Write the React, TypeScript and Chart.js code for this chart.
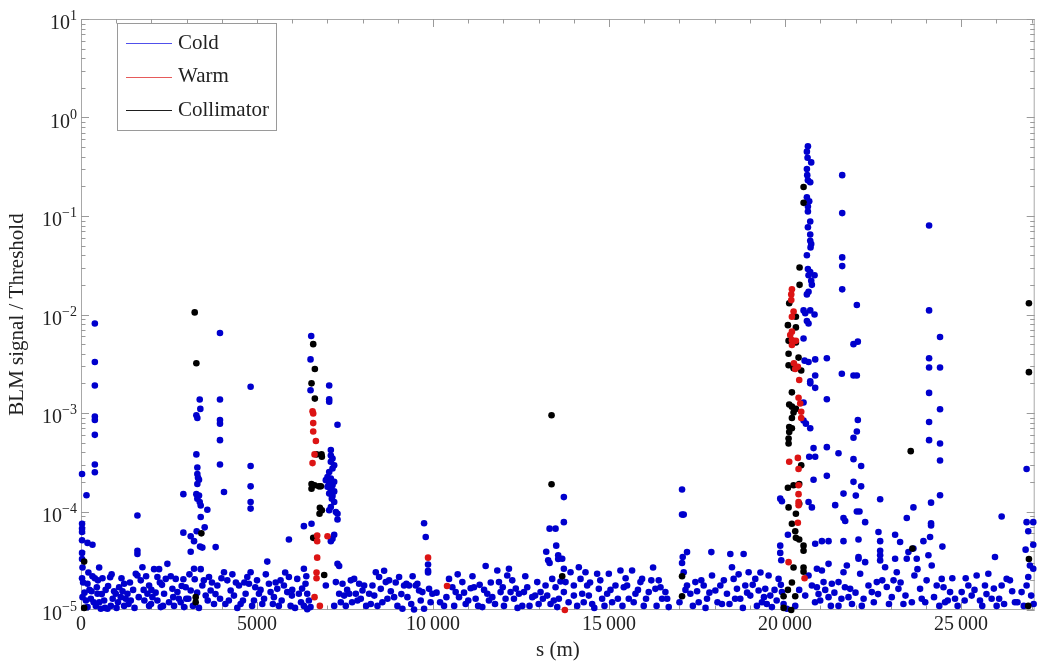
import React, { useEffect, useRef } from "react";
import { Chart, registerables } from "chart.js";

Chart.register(...registerables);

// ---------- data (s in metres, value = BLM signal / threshold) ----------
const seriesNames = ["Cold", "Warm", "Collimator"];

const xTickValues = [0, 5000, 10000, 15000, 20000, 25000];
const xTickLabels = ["0", "5000", "10\u2009000", "15\u2009000", "20\u2009000", "25\u2009000"];
const yDecades = [-5, -4, -3, -2, -1, 0, 1];
const yTickExponents = ["\u22125", "\u22124", "\u22123", "\u22122", "\u22121", "0", "1"];

const coldPeaks: [number, number][] = [
  [30, 2.4e-4], [156, 1.46e-4], [393, 8.1e-3], [393, 3.3e-3], [393, 1.9e-3], [393, 9.2e-4], [393, 8.5e-4],
  [393, 6.0e-4], [393, 3.0e-4], [393, 2.5e-4], [30, 7.5e-5], [30, 6.7e-5], [30, 6.2e-5], [30, 5.1e-5],
  [185, 4.8e-5], [326, 4.6e-5], [30, 3.8e-5], [30, 3.3e-5],
  [1603, 9.1e-5], [1603, 4.0e-5], [1603, 3.7e-5], [2908, 1.5e-4], [2908, 6.1e-5],
  [3372, 1.37e-3], [3390, 1.1e-3], [3277, 9.5e-4], [3305, 8.9e-4], [3277, 3.8e-4], [3305, 2.8e-4],
  [3305, 2.4e-4], [3324, 2.2e-4], [3352, 2.1e-4], [3305, 1.9e-4], [3277, 1.5e-4], [3352, 1.45e-4],
  [3305, 1.35e-4], [3372, 1.25e-4], [3400, 1.15e-4], [3589, 1.04e-4], [3400, 8.8e-5], [3513, 6.9e-5],
  [3286, 6.3e-5], [3116, 5.6e-5], [3211, 5.0e-5], [3381, 4.4e-5], [3447, 4.3e-5], [3825, 4.35e-5], [3116, 3.9e-5],
  [3948, 6.5e-3], [3948, 1.37e-3], [3948, 8.5e-4], [3948, 7.8e-4], [3948, 5.3e-4], [3948, 3.0e-4], [4062, 1.58e-4],
  [4818, 1.85e-3], [4818, 2.9e-4], [4818, 1.8e-4], [4818, 1.25e-4], [4818, 1.07e-4],
  [5906, 5.2e-5], [5291, 3.1e-5], [6331, 7.1e-5],
  [6539, 6.05e-3], [6520, 3.5e-3], [6520, 1.7e-3], [6548, 7.5e-5],
  [7050, 1.9e-3], [7050, 1.38e-3], [7050, 1.3e-3], [7286, 7.6e-4], [7097, 4.2e-4], [7097, 3.7e-4],
  [7144, 3.45e-4], [7097, 3.2e-4], [7192, 2.95e-4], [7144, 2.73e-4], [7050, 2.52e-4], [7002, 2.24e-4],
  [7097, 2.16e-4], [6955, 2.08e-4], [7192, 2.0e-4], [7050, 1.92e-4], [7144, 1.85e-4], [7002, 1.78e-4],
  [7097, 1.68e-4], [7192, 1.6e-4], [7050, 1.52e-4], [7144, 1.44e-4], [7125, 1.35e-4], [7192, 1.25e-4],
  [7097, 1.11e-4], [7050, 1.03e-4], [7239, 9.9e-5], [7286, 9.5e-5], [7286, 8.3e-5], [7192, 5.8e-5],
  [7144, 5.3e-5], [7097, 5.0e-5], [7286, 2.94e-5], [7333, 2.8e-5],
  [9745, 7.6e-5], [9792, 5.5e-5], [9858, 2.9e-5], [9858, 2.5e-5], [9858, 2.4e-5],
  [13716, 1.4e-4], [13716, 7.8e-5], [13310, 6.7e-5], [13480, 6.7e-5], [13499, 4.5e-5], [13215, 3.9e-5],
  [13270, 3.2e-5], [13310, 3.0e-5], [13555, 3.6e-5], [13555, 3.3e-5],
  [17073, 1.67e-4], [17073, 9.3e-5], [17120, 9.3e-5], [17214, 3.87e-5], [17092, 3.45e-5], [17073, 3.0e-5],
  [17905, 3.87e-5], [18444, 3.7e-5], [18822, 3.7e-5], [16250, 2.7e-5],
  [19862, 1.35e-4], [19910, 1.27e-4], [20080, 5.8e-5], [19862, 4.5e-5], [19862, 3.8e-5], [19891, 3.2e-5],
  [20648, 0.51], [20619, 0.45], [20638, 0.39], [20742, 0.35], [20619, 0.3], [20629, 0.26], [20648, 0.23],
  [20714, 0.22], [20619, 0.155], [20685, 0.141], [20648, 0.125], [20648, 0.111], [20714, 0.088],
  [20648, 0.077], [20714, 0.065], [20714, 0.056], [20742, 0.052], [20723, 0.048], [20619, 0.04],
  [20648, 0.029], [20714, 0.027], [20837, 0.025], [20666, 0.025], [20742, 0.022], [20761, 0.02],
  [20619, 0.016], [20666, 0.017],
  [20524, 1.1e-2], [20572, 1.03e-2], [20714, 1.1e-2], [20836, 1.0e-2], [20619, 8.6e-3], [20666, 8.1e-3],
  [20524, 5.7e-3], [21186, 3.6e-3], [21612, 2.5e-3], [20855, 3.5e-3], [20666, 3.3e-3], [20553, 3.4e-3],
  [21186, 1.38e-3], [20855, 2.4e-3], [20714, 2.1e-3], [20714, 2.0e-3], [20855, 1.8e-3], [20524, 1.28e-3],
  [20524, 8.4e-4], [20591, 7.8e-4], [20714, 7.0e-4], [21186, 4.5e-4], [20808, 4.4e-4], [20685, 3.6e-4],
  [20855, 3.6e-4], [21517, 3.9e-4], [21186, 2.3e-4], [20808, 2.1e-4], [20666, 1.25e-4], [20761, 1.1e-4],
  [20855, 4.7e-5], [21045, 5.0e-5], [21234, 5.0e-5], [21659, 5.0e-5],
  [21659, 1.52e-4], [21423, 1.16e-4], [21659, 8.6e-5], [21707, 8.0e-5],
  [21622, 0.26], [21622, 0.107], [21622, 0.038], [21622, 0.031], [21622, 0.018],
  [22038, 1.25e-2], [21943, 5.0e-3], [22066, 5.3e-3], [21943, 2.4e-3], [22038, 2.4e-3], [22066, 8.5e-4],
  [22038, 6.5e-4], [21943, 5.6e-4], [21943, 3.4e-4], [22160, 2.9e-4], [21943, 2.0e-4], [22160, 1.8e-4],
  [22009, 1.45e-4], [22038, 1.0e-4], [22113, 1.0e-4], [22274, 7.8e-5],
  [24090, 0.08], [22700, 1.33e-4], [23645, 1.1e-4], [23456, 8.6e-5],
  [24090, 1.1e-2], [24401, 5.9e-3], [24090, 3.6e-3], [24090, 2.9e-3], [24401, 2.9e-3], [24090, 1.6e-3],
  [24401, 1.09e-3], [24090, 8.1e-4], [24090, 5.3e-4], [24401, 4.9e-4], [24401, 3.3e-4], [24401, 1.46e-4],
  [24146, 1.23e-4], [24146, 7.6e-5], [24146, 7.2e-5], [24468, 4.4e-5],
  [26151, 8.9e-5], [26860, 2.7e-4], [26860, 7.8e-5], [27049, 7.8e-5], [26907, 6.3e-5], [27049, 4.6e-5],
  [26832, 4.1e-5], [22085, 5.2e-5], [22085, 3.45e-5], [22652, 6.2e-5], [22700, 4.0e-5], [23125, 5.8e-5],
  [23267, 4.9e-5], [23929, 5.0e-5], [24118, 5.5e-5], [25962, 3.45e-5], [22700, 5.0e-5],
];

const coldFloor: [number, number][] = [
  [43, 2.7e-5], [516, 2.7e-5], [30, 2.1e-5], [326, 2.2e-5], [393, 2.1e-5], [610, 2.1e-5], [185, 1.85e-5],
  [450, 1.7e-5], [828, 2.15e-5], [43, 1.35e-5], [280, 1.3e-5], [468, 1.46e-5], [657, 1.25e-5], [847, 1.1e-5],
  [185, 1.07e-5], [421, 1.1e-5], [563, 1.03e-5], [752, 1.03e-5], [1083, 1.7e-5], [1225, 1.85e-5], [988, 1.46e-5],
  [1130, 1.35e-5], [1320, 1.46e-5], [1414, 1.25e-5], [1225, 1.1e-5], [1603, 2.24e-5], [1556, 2.33e-5],
  [1745, 2.72e-5], [1698, 2.0e-5], [1934, 1.77e-5], [1887, 1.46e-5], [2029, 1.35e-5], [1934, 1.1e-5],
  [2170, 1.25e-5], [2265, 1.07e-5], [2076, 2.6e-5], [2218, 2.6e-5], [2170, 2.16e-5], [2454, 2.94e-5],
  [2407, 2.07e-5], [2360, 1.46e-5], [2596, 1.64e-5], [2738, 1.52e-5], [2691, 2.07e-5], [2908, 2.05e-5],
  [2832, 1.2e-5], [2643, 1.1e-5], [2927, 1.07e-5], [2974, 1.7e-5], [3116, 1.58e-5], [3211, 2.62e-5],
  [3230, 2.05e-5], [3400, 2.6e-5], [3447, 1.77e-5], [3542, 1.4e-5], [3636, 2.16e-5], [3683, 1.58e-5],
  [3778, 1.15e-5], [3873, 1.77e-5], [4062, 2.42e-5], [4156, 2.0e-5], [4251, 1.58e-5], [4345, 1.4e-5],
  [4487, 1.77e-5], [4534, 1.15e-5], [4676, 1.46e-5], [4724, 2.16e-5], [4818, 2.42e-5], [4771, 1.85e-5],
  [4913, 1.25e-5], [5055, 1.46e-5], [5149, 1.15e-5], [5338, 1.85e-5], [5385, 1.52e-5], [5480, 1.35e-5],
  [5575, 1.64e-5], [5669, 2.0e-5], [5764, 1.77e-5], [5858, 1.52e-5], [5906, 2.16e-5], [5953, 1.1e-5],
  [6142, 2.07e-5], [6189, 1.46e-5], [6331, 2.62e-5], [6378, 1.85e-5], [6426, 1.46e-5], [6473, 1.25e-5],
  [6331, 1.1e-5], [6520, 1.07e-5], [6426, 1.02e-5],
  [100, 1.5e-5], [240, 1.6e-5], [520, 1.2e-5], [700, 1.6e-5], [900, 1.3e-5], [1050, 1.2e-5], [1180, 1.55e-5],
  [1350, 1.15e-5], [1480, 1.6e-5], [1800, 1.25e-5], [2000, 1.6e-5], [2300, 1.8e-5], [2500, 1.2e-5],
  [2780, 1.3e-5], [3050, 1.3e-5], [3350, 1.05e-5], [3600, 1.25e-5], [3950, 1.3e-5], [4100, 1.15e-5],
  [4400, 1.9e-5], [4600, 1.25e-5], [4950, 1.7e-5], [5200, 1.3e-5], [5450, 1.15e-5], [5700, 1.25e-5],
  [6000, 1.6e-5], [6250, 1.2e-5],
  [60, 1.9e-5], [140, 1.25e-5], [210, 2.4e-5], [300, 1.55e-5], [360, 1.2e-5], [480, 2.0e-5], [590, 1.45e-5],
  [680, 1.05e-5], [770, 1.75e-5], [870, 2.3e-5], [940, 1.55e-5], [1010, 1.05e-5], [1150, 2.1e-5], [1270, 1.3e-5],
  [1390, 1.9e-5], [1520, 1.05e-5], [1640, 1.35e-5], [1780, 1.6e-5], [1850, 2.2e-5], [1990, 1.15e-5],
  [2120, 1.5e-5], [2240, 1.9e-5], [2330, 1.1e-5], [2550, 2.2e-5], [2620, 1.35e-5], [2860, 1.75e-5],
  [2990, 1.3e-5], [3080, 2.3e-5], [3180, 1.1e-5], [3300, 1.5e-5], [3490, 2.0e-5], [3720, 1.9e-5],
  [3820, 1.45e-5], [3990, 2.1e-5], [4200, 1.25e-5], [4300, 2.3e-5], [4440, 1.05e-5], [4640, 1.9e-5],
  [4860, 1.1e-5], [5000, 2.0e-5], [5100, 1.6e-5], [5250, 2.3e-5], [5530, 1.9e-5], [5620, 1.1e-5],
  [5800, 2.4e-5], [5990, 1.4e-5], [6080, 1.05e-5], [6280, 1.65e-5], [6400, 2.2e-5],
  [6955, 1.77e-5], [7239, 1.92e-5], [7428, 1.85e-5], [7664, 2.0e-5], [7759, 2.07e-5], [7333, 1.46e-5],
  [7192, 1.1e-5], [7475, 1.4e-5], [7620, 1.46e-5], [7522, 1.1e-5], [7806, 1.46e-5], [7853, 1.25e-5],
  [7948, 1.3e-5], [8043, 1.77e-5], [7995, 1.58e-5], [8184, 1.46e-5], [8279, 1.77e-5], [8232, 1.15e-5],
  [8374, 2.42e-5], [8468, 2.16e-5], [8515, 1.64e-5], [8657, 1.92e-5], [8752, 2.0e-5], [8704, 1.3e-5],
  [8421, 1.1e-5], [8894, 1.35e-5], [8988, 1.1e-5], [9035, 2.16e-5], [9177, 1.77e-5], [9243, 1.85e-5],
  [9319, 1.77e-5], [9272, 1.35e-5], [9130, 1.03e-5], [9508, 1.77e-5], [9603, 1.58e-5], [9555, 1.85e-5],
  [9697, 1.52e-5], [9886, 1.64e-5], [9981, 1.46e-5], [9745, 1.03e-5], [9460, 1.01e-5],
  [7380, 1.2e-5], [7560, 1.6e-5], [7700, 1.2e-5], [7900, 1.85e-5], [8100, 1.1e-5], [8330, 1.4e-5],
  [8560, 1.2e-5], [8610, 2.5e-5], [8800, 1.55e-5], [8940, 1.9e-5], [9100, 1.45e-5], [9380, 1.15e-5],
  [9420, 2.2e-5], [9650, 1.25e-5], [9930, 1.2e-5],
  [10312, 1.1e-5], [10454, 2.07e-5], [10549, 1.7e-5], [10643, 1.52e-5], [10832, 1.92e-5], [10738, 1.35e-5],
  [10927, 1.15e-5], [11069, 1.66e-5], [11163, 1.7e-5], [11324, 1.8e-5], [11210, 1.3e-5], [11494, 2.8e-5],
  [11541, 1.46e-5], [11588, 1.25e-5], [11399, 1.07e-5], [11683, 1.35e-5], [11825, 2.52e-5], [11872, 1.92e-5],
  [11919, 1.52e-5], [12014, 1.1e-5], [12108, 2.24e-5], [12156, 2.62e-5], [12250, 2.0e-5], [12298, 1.3e-5],
  [12203, 1.52e-5], [12440, 1.46e-5], [12534, 1.1e-5], [12582, 1.52e-5], [12676, 1.7e-5], [12818, 1.35e-5],
  [12960, 1.92e-5], [13054, 1.52e-5], [13196, 1.77e-5], [13243, 1.4e-5], [13338, 1.15e-5], [13385, 2.07e-5],
  [13480, 1.7e-5], [13574, 1.3e-5], [13527, 1.07e-5], [13716, 1.52e-5],
  [10100, 1.5e-5], [10200, 1.2e-5], [10380, 1.35e-5], [10600, 1.1e-5], [10700, 2.3e-5], [10880, 1.5e-5],
  [11000, 1.25e-5], [11120, 2.2e-5], [11280, 1.1e-5], [11450, 1.6e-5], [11640, 1.9e-5], [11760, 1.15e-5],
  [11980, 1.7e-5], [12060, 1.3e-5], [12350, 1.65e-5], [12400, 1.05e-5], [12620, 2.2e-5], [12740, 1.1e-5],
  [12900, 1.4e-5], [13000, 1.15e-5], [13120, 1.3e-5], [13430, 1.25e-5], [13620, 1.95e-5],
  [13669, 3.31e-5], [13716, 2.62e-5], [13763, 1.92e-5], [13905, 2.42e-5], [13999, 1.77e-5], [14141, 2.72e-5],
  [14189, 2.07e-5], [14236, 1.46e-5], [14094, 1.1e-5], [14330, 2.42e-5], [14378, 1.77e-5], [14425, 1.4e-5],
  [14520, 1.15e-5], [14661, 2.33e-5], [14709, 1.64e-5], [14803, 1.3e-5], [14945, 1.46e-5], [14993, 2.33e-5],
  [15087, 1.2e-5], [15182, 1.77e-5], [15323, 2.52e-5], [15418, 1.7e-5], [15512, 1.77e-5], [15560, 1.3e-5],
  [15654, 2.52e-5], [15749, 1.46e-5], [15891, 1.92e-5], [15938, 2.07e-5], [15985, 1.1e-5], [16127, 1.52e-5],
  [16316, 1.64e-5], [16411, 2.0e-5], [16505, 1.3e-5], [16600, 1.52e-5], [16694, 1.07e-5],
  [13850, 1.2e-5], [14000, 1.4e-5], [14280, 1.2e-5], [14460, 1.9e-5], [14580, 1.05e-5], [14750, 2.0e-5],
  [14870, 1.1e-5], [15040, 1.6e-5], [15250, 1.3e-5], [15380, 1.1e-5], [15470, 2.1e-5], [15700, 1.2e-5],
  [15820, 1.6e-5], [16050, 1.3e-5], [16200, 2.0e-5], [16350, 1.1e-5], [16460, 1.7e-5], [16650, 1.3e-5],
  [17120, 2.42e-5], [17214, 1.77e-5], [17309, 1.46e-5], [17451, 1.92e-5], [17546, 1.2e-5], [17688, 1.77e-5],
  [17782, 1.3e-5], [17924, 2.24e-5], [18018, 1.58e-5], [18160, 1.77e-5], [18207, 1.15e-5], [18349, 1.46e-5],
  [18491, 2.72e-5], [18538, 2.07e-5], [18633, 1.64e-5], [18727, 1.3e-5], [18869, 1.77e-5], [18964, 2.42e-5],
  [19011, 1.4e-5], [19153, 2.07e-5], [19248, 1.58e-5], [19342, 1.2e-5], [19437, 1.64e-5], [19531, 2.24e-5],
  [19579, 1.4e-5], [19626, 1.07e-5], [19815, 2.07e-5], [19910, 1.52e-5], [19957, 1.15e-5], [20051, 1.03e-5],
  [17000, 1.2e-5], [17170, 1.6e-5], [17380, 1.1e-5], [17500, 1.55e-5], [17620, 2.0e-5], [17740, 1.05e-5],
  [17850, 1.5e-5], [18080, 1.2e-5], [18260, 2.0e-5], [18420, 1.15e-5], [18580, 1.3e-5], [18680, 2.3e-5],
  [18800, 1.05e-5], [18920, 1.5e-5], [19080, 1.8e-5], [19200, 1.1e-5], [19300, 2.4e-5], [19400, 1.35e-5],
  [19480, 1.15e-5], [19700, 1.6e-5], [19760, 1.25e-5], [19880, 1.8e-5],
  [20903, 2.62e-5], [21045, 2.52e-5], [21234, 2.94e-5], [20903, 1.7e-5], [21092, 1.92e-5], [21328, 1.85e-5],
  [21517, 1.92e-5], [21659, 2.42e-5], [21754, 2.83e-5], [21848, 1.64e-5], [20997, 1.25e-5], [21234, 1.35e-5],
  [21517, 1.1e-5], [21801, 1.35e-5], [22085, 3.31e-5], [22132, 2.33e-5], [22274, 3.06e-5], [22368, 1.77e-5],
  [22463, 1.52e-5], [22179, 1.1e-5], [22605, 1.92e-5], [22700, 3.6e-5], [22700, 3.19e-5], [22841, 2.72e-5],
  [22888, 1.71e-5], [23030, 1.35e-5], [23125, 3.31e-5], [23172, 2.42e-5], [23219, 1.64e-5], [23361, 1.15e-5],
  [23456, 3.31e-5], [23503, 3.87e-5], [23645, 4.2e-5], [23739, 3.31e-5], [23673, 2.24e-5], [23834, 1.64e-5],
  [23881, 1.3e-5], [24071, 3.6e-5], [24165, 2.83e-5], [24307, 1.77e-5], [24449, 2.07e-5], [24543, 1.2e-5],
  [24686, 1.52e-5], [24827, 1.3e-5], [25016, 1.52e-5], [25205, 1.77e-5], [25300, 1.4e-5], [25441, 2.24e-5],
  [25536, 1.25e-5], [25678, 1.77e-5], [25773, 2.33e-5], [25867, 1.3e-5], [26009, 1.1e-5], [26151, 1.77e-5],
  [26293, 2.07e-5], [26387, 2.0e-5], [26529, 1.2e-5], [26718, 1.52e-5], [26860, 1.77e-5], [26907, 2.16e-5],
  [26954, 2.83e-5], [27049, 2.62e-5], [20666, 2.24e-5], [20761, 1.77e-5], [20572, 1.4e-5], [20288, 1.1e-5],
  [20400, 1.6e-5], [20850, 1.2e-5], [20950, 1.45e-5], [21140, 1.6e-5], [21300, 1.1e-5], [21400, 1.5e-5],
  [21600, 1.3e-5], [21700, 1.7e-5], [21900, 1.15e-5], [22000, 1.5e-5], [22230, 1.3e-5], [22520, 1.2e-5],
  [22640, 1.45e-5], [22760, 2.0e-5], [22950, 1.15e-5], [23080, 2.0e-5], [23280, 1.9e-5], [23420, 1.4e-5],
  [23600, 1.2e-5], [23760, 2.6e-5], [23980, 1.2e-5], [24020, 2.0e-5], [24230, 1.35e-5], [24380, 1.1e-5],
  [24500, 1.7e-5], [24620, 1.25e-5], [24750, 2.1e-5], [24900, 1.1e-5], [25100, 1.25e-5], [25130, 2.1e-5],
  [25380, 1.6e-5], [25600, 1.1e-5], [25720, 1.45e-5], [25930, 1.65e-5], [26080, 1.3e-5], [26220, 1.15e-5],
  [26450, 1.55e-5], [26600, 1.2e-5], [26780, 1.1e-5], [26990, 1.4e-5], [27060, 1.15e-5],
];

const warmPoints: [number, number][] = [
  [6577, 1.04e-3], [6596, 9.9e-4], [6596, 7.9e-4], [6596, 6.5e-4], [6672, 5.2e-4], [6634, 3.8e-4],
  [6577, 3.1e-4], [6709, 5.7e-5], [6709, 5.0e-5], [6709, 3.4e-5], [6690, 2.4e-5], [6690, 2.1e-5],
  [6634, 1.35e-5], [6785, 1.1e-5], [7002, 5.6e-5],
  [9858, 3.4e-5], [10397, 1.75e-5], [13744, 1.0e-5],
  [20194, 1.8e-2], [20175, 1.6e-2], [20175, 1.4e-2], [20241, 1.07e-2], [20193, 9.5e-3], [20194, 6.7e-3],
  [20146, 6.2e-3], [20193, 5.5e-3], [20307, 5.4e-3], [20194, 4.9e-3], [20250, 3.2e-3], [20363, 2.95e-3],
  [20288, 2.8e-3], [20401, 2.16e-3], [20382, 1.43e-3], [20430, 1.25e-3], [20458, 1.03e-3], [20458, 8.9e-4],
  [20117, 3.2e-4], [20363, 3.5e-4], [20382, 2.7e-4], [20383, 1.85e-4], [20382, 1.5e-4], [20382, 1.25e-4],
  [20383, 1.16e-4], [20363, 7.7e-5], [20099, 3.06e-5], [20553, 2.1e-5],
];

const collimatorPoints: [number, number][] = [
  [90, 3.1e-5], [90, 1.05e-5], [3230, 1.05e-2], [3277, 3.2e-3], [3419, 6.0e-5], [3258, 1.35e-5], [3258, 1.2e-5],
  [6596, 5.0e-3], [6643, 2.8e-3], [6548, 2.0e-3], [6643, 1.4e-3], [6690, 3.8e-4], [6832, 3.8e-4], [6842, 3.6e-4],
  [6548, 1.9e-4], [6634, 1.85e-4], [6757, 1.8e-4], [6548, 1.7e-4], [6813, 1.8e-4], [6785, 1.09e-4],
  [6775, 9.5e-5], [6842, 1.03e-4], [6596, 5.4e-5], [6908, 2.27e-5],
  [13366, 9.5e-4], [13366, 1.89e-4], [13669, 2.2e-5], [17073, 2.2e-5], [17073, 1.38e-5],
  [20525, 0.197], [20525, 0.136], [20411, 0.03], [20411, 0.02], [20117, 1.3e-2], [20307, 9.5e-3],
  [20080, 7.8e-3], [20307, 7.4e-3], [20099, 5.4e-3], [20307, 5.2e-3], [20099, 4.0e-3], [20382, 3.65e-3],
  [20099, 3.05e-3], [20240, 2.85e-3], [20458, 2.7e-3], [20193, 1.62e-3], [20117, 1.22e-3], [20193, 1.16e-3],
  [20307, 1.1e-3], [20240, 1.01e-3], [20193, 8.9e-4], [20117, 7.2e-4], [20193, 7.0e-4], [20117, 6.4e-4],
  [20099, 5.5e-4], [20099, 4.9e-4], [20458, 2.95e-4], [20080, 1.74e-4], [20240, 1.85e-4], [20401, 1.9e-4],
  [20402, 1.2e-4], [20099, 1.1e-4], [20307, 9.5e-5], [20193, 7.5e-5], [20288, 6.3e-5], [20307, 5.4e-5],
  [20401, 5.2e-5], [20524, 4.5e-5], [20524, 4.0e-5], [20240, 2.7e-5], [20524, 2.7e-5], [20524, 2.45e-5],
  [20194, 1.9e-5], [20080, 1.6e-5], [20288, 1.38e-5], [20174, 1.0e-5], [19957, 1.38e-5], [19957, 1.05e-5],
  [23569, 4.1e-4], [23616, 4.2e-5], [26926, 1.3e-2], [26926, 2.6e-3], [26926, 3.3e-5], [26907, 1.1e-5],
];

// ---------- styling ----------
const FONT = "'Liberation Serif', 'DejaVu Serif', serif";
const TEXT = "#222";
const COLD = "rgb(0,0,205)";
const WARM = "rgb(220,20,20)";
const COLL = "rgb(0,0,0)";
const LEGEND_COLORS = ["rgb(80,80,235)", "rgb(230,90,90)", "rgb(30,30,30)"];
const X_MAX = 27090;
const X_MINOR = 1000;
const X_MAJOR = 5000;

const toXY = (arr: [number, number][]) => arr.map(([x, y]) => ({ x, y }));

const framePlugin = {
  id: "mmaFrame",
  beforeDatasetsDraw(chart: any) {
    const { ctx, chartArea: a, scales } = chart;
    const xs = scales.x;
    const ys = scales.y;
    ctx.save();
    ctx.lineWidth = 1;
    ctx.strokeStyle = "#a8a8a8";
    ctx.strokeRect(a.left + 0.5, a.top + 0.5, a.right - a.left - 1, a.bottom - a.top - 1);
    ctx.strokeStyle = "#9a9a9a";
    ctx.beginPath();
    for (let v = 0; v <= X_MAX; v += X_MINOR) {
      const px = Math.round(xs.getPixelForValue(v)) + 0.5;
      const len = v % X_MAJOR === 0 ? 8 : 4.5;
      ctx.moveTo(px, a.bottom);
      ctx.lineTo(px, a.bottom - len);
      ctx.moveTo(px, a.top);
      ctx.lineTo(px, a.top + len);
    }
    for (let i = 0; i < yDecades.length; i++) {
      const e = yDecades[i];
      const lim = e === yDecades[yDecades.length - 1] ? 1 : 9;
      for (let k = 1; k <= lim; k++) {
        const py = Math.round(ys.getPixelForValue(k * Math.pow(10, e))) + 0.5;
        const len = k === 1 ? 8 : 4.5;
        ctx.moveTo(a.left, py);
        ctx.lineTo(a.left + len, py);
        ctx.moveTo(a.right, py);
        ctx.lineTo(a.right - len, py);
      }
    }
    ctx.stroke();

    // y tick labels: 10 with raised exponent
    ctx.fillStyle = TEXT;
    ctx.textAlign = "left";
    ctx.textBaseline = "alphabetic";
    for (let i = 0; i < yDecades.length; i++) {
      const py = ys.getPixelForValue(Math.pow(10, yDecades[i]));
      const exp = yTickExponents[i];
      ctx.font = `14px ${FONT}`;
      const we = ctx.measureText(exp).width;
      ctx.font = `20px ${FONT}`;
      const wb = ctx.measureText("10").width;
      const right = a.left - 4;
      ctx.fillText("10", right - we - wb, py + 10);
      ctx.font = `14px ${FONT}`;
      ctx.fillText(exp, right - we, py + 1);
    }
    ctx.restore();
  },
  afterDraw(chart: any) {
    const { ctx, chartArea: a } = chart;
    const left = a.left + 36;
    const top = a.top + 4;
    ctx.save();
    ctx.fillStyle = "#fff";
    ctx.fillRect(left, top, 159, 107);
    ctx.strokeStyle = "#9a9a9a";
    ctx.lineWidth = 1;
    ctx.strokeRect(left + 0.5, top + 0.5, 159, 107);
    ctx.font = `21px ${FONT}`;
    ctx.textBaseline = "middle";
    ctx.textAlign = "left";
    for (let i = 0; i < seriesNames.length; i++) {
      const y = top + 20 + i * 33.5;
      ctx.strokeStyle = LEGEND_COLORS[i];
      ctx.lineWidth = 1.2;
      ctx.beginPath();
      ctx.moveTo(left + 9, Math.round(y) + 0.5);
      ctx.lineTo(left + 55, Math.round(y) + 0.5);
      ctx.stroke();
      ctx.fillStyle = TEXT;
      ctx.fillText(seriesNames[i], left + 61, y);
    }
    ctx.restore();
  },
};

export default function App() {
  const ref = useRef<HTMLCanvasElement>(null);
  useEffect(() => {
    if (!ref.current) return;
    const pointStyle = { pointRadius: 3.3, pointHoverRadius: 3.3, pointBorderWidth: 0, showLine: false, clip: 5 };
    const chart = new Chart(ref.current, {
      type: "scatter",
      data: {
        datasets: [
          { label: seriesNames[0], data: toXY([...coldFloor, ...coldPeaks]), backgroundColor: COLD, borderColor: COLD, order: 3, ...pointStyle },
          { label: seriesNames[1], data: toXY(warmPoints), backgroundColor: WARM, borderColor: WARM, order: 1, ...pointStyle },
          { label: seriesNames[2], data: toXY(collimatorPoints), backgroundColor: COLL, borderColor: COLL, order: 2, ...pointStyle },
        ],
      } as any,
      options: {
        animation: false,
        responsive: false,
        events: [],
        layout: { padding: { top: 19, right: 1, left: 0, bottom: 0 } },
        plugins: { legend: { display: false }, tooltip: { enabled: false } },
        scales: {
          x: {
            type: "linear",
            min: 0,
            max: X_MAX,
            grid: { display: false, drawTicks: false },
            border: { display: false },
            afterBuildTicks: (scale: any) => {
              scale.ticks = xTickValues.map((v) => ({ value: v }));
            },
            afterFit: (scale: any) => {
              scale.height = 53;
            },
            ticks: {
              autoSkip: false,
              maxRotation: 0,
              padding: 3,
              color: TEXT,
              font: { family: FONT, size: 20 },
              callback: (v: any) => {
                const i = xTickValues.indexOf(Number(v));
                return i >= 0 ? xTickLabels[i] : "";
              },
            },
            title: { display: true, text: "s (m)", color: TEXT, font: { family: FONT, size: 21 }, padding: { top: 0, bottom: 0 } },
          },
          y: {
            type: "logarithmic",
            min: 1e-5,
            max: 10,
            grid: { display: false, drawTicks: false },
            border: { display: false },
            afterBuildTicks: (scale: any) => {
              scale.ticks = yDecades.map((e) => ({ value: Math.pow(10, e) }));
            },
            afterFit: (scale: any) => {
              scale.width = 81;
            },
            ticks: { display: false },
            title: {
              display: true,
              text: "BLM signal / Threshold",
              color: TEXT,
              font: { family: FONT, size: 21 },
              padding: { top: 5, bottom: 0 },
            },
          },
        },
      } as any,
      plugins: [framePlugin],
    });
    return () => chart.destroy();
  }, []);
  return (
    <div style={{ position: "fixed", left: 0, top: 0, width: 1038, height: 663, background: "#fff" }}>
      <canvas ref={ref} width={1038} height={663} style={{ display: "block" }} />
    </div>
  );
}
